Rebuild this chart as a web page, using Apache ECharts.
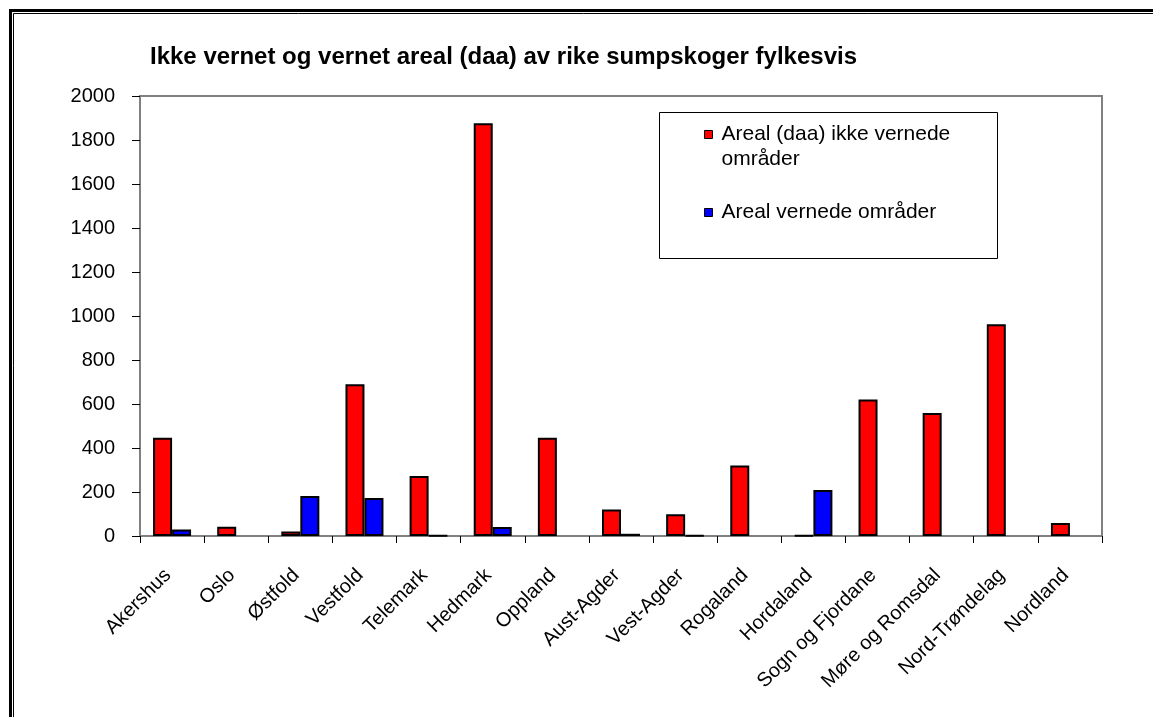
<!DOCTYPE html>
<html>
<head>
<meta charset="utf-8">
<script src="https://cdn.jsdelivr.net/npm/echarts@6/dist/echarts.min.js"></script>
<style>
  html, body { margin: 0; padding: 0; background: #fff; }
  #chart { width: 1153px; height: 717px; }
</style>
</head>
<body>
<div id="chart"></div>
<script>
// Counties (fylker)
const fylker = ['Akershus', 'Oslo', 'Østfold', 'Vestfold', 'Telemark', 'Hedmark', 'Oppland',
  'Aust-Agder', 'Vest-Agder', 'Rogaland', 'Hordaland', 'Sogn og Fjordane', 'Møre og Romsdal',
  'Nord-Trøndelag', 'Nordland'];

// Area (daa) of rich swamp forest outside protected areas
const ikkeVernet = [447, 42, 20, 690, 273, 1876, 447, 121, 99, 320, 3, 621, 559, 962, 59];

// Area (daa) inside protected areas
const vernet = [30, 0, 182, 173, 2, 41, 0, 10, 3, 0, 209, 0, 0, 0, 0];

const seriesNames = ['Areal (daa) ikke vernede områder', 'Areal vernede områder'];
const titleText = 'Ikke vernet og vernet areal (daa) av rike sumpskoger fylkesvis';

const FONT = '"Liberation Sans", Arial, sans-serif';

// counties with no area get no bar at all
const asBars = (arr) => arr.map(v => (v === 0 ? '-' : v));

const chart = echarts.init(document.getElementById('chart'), null, { renderer: 'canvas' });

chart.setOption({
  backgroundColor: '#ffffff',
  animation: false,
  title: {
    text: titleText,
    left: 150,
    top: 45,
    padding: 0,
    textStyle: { fontFamily: FONT, fontSize: 24, fontWeight: 'bold', color: '#000' }
  },
  legend: [
    {
      data: [seriesNames[0]],
      left: 704,
      top: 97,
      padding: 0,
      icon: 'rect',
      itemWidth: 8,
      itemHeight: 8,
      itemStyle: { borderColor: '#000', borderWidth: 1 },
      // leading blank line keeps the swatch level with the first line of the wrapped name
      formatter: () => '\nAreal (daa) ikke vernede\nområder',
      textStyle: { fontFamily: FONT, fontSize: 21, color: '#000', lineHeight: 25, padding: [0, 0, 0, 4] }
    },
    {
      data: [seriesNames[1]],
      left: 704,
      top: 201,
      padding: 0,
      icon: 'rect',
      itemWidth: 8,
      itemHeight: 8,
      itemStyle: { borderColor: '#000', borderWidth: 1 },
      textStyle: { fontFamily: FONT, fontSize: 21, color: '#000', lineHeight: 23, padding: [0, 0, 0, 4] }
    }
  ],
  grid: {
    left: 140,
    right: 51,
    top: 96,
    bottom: 181,
    show: true,
    borderColor: '#808080',
    borderWidth: 2,
    containLabel: false
  },
  xAxis: {
    type: 'category',
    data: fylker,
    axisLine: { show: true, lineStyle: { color: '#808080', width: 2 } },
    axisTick: { show: true, interval: 0, length: 7, lineStyle: { color: '#000', width: 1 } },
    axisLabel: {
      interval: 0,
      rotate: 45,
      margin: 32,
      padding: [0, 6, 0, 0],
      fontFamily: FONT,
      fontSize: 20,
      color: '#000'
    },
    splitLine: { show: false }
  },
  yAxis: {
    type: 'value',
    min: 0,
    max: 2000,
    interval: 200,
    axisLine: { show: true, lineStyle: { color: '#808080', width: 2 } },
    axisTick: { show: true, length: 8, lineStyle: { color: '#000', width: 1 } },
    axisLabel: {
      margin: 25,
      fontFamily: FONT,
      fontSize: 20,
      color: '#000',
      formatter: (v) => String(v)
    },
    splitLine: { show: false }
  },
  series: [
    {
      name: seriesNames[0],
      type: 'bar',
      data: asBars(ikkeVernet),
      barWidth: 19,
      barGap: '0%',
      itemStyle: { color: '#ff0000', borderColor: '#000', borderWidth: 2 }
    },
    {
      name: seriesNames[1],
      type: 'bar',
      data: asBars(vernet),
      barWidth: 19,
      barGap: '0%',
      itemStyle: { color: '#0000ff', borderColor: '#000', borderWidth: 2 }
    }
  ],
  graphic: [
    // double frame around the whole chart
    { type: 'rect', silent: true, shape: { x: 10.5, y: 10.5, width: 1300, height: 900 },
      style: { fill: null, stroke: '#000', lineWidth: 3 } },
    { type: 'rect', silent: true, shape: { x: 13.5, y: 13.5, width: 1300, height: 900 },
      style: { fill: null, stroke: '#000', lineWidth: 1 } },
    // legend box
    { type: 'rect', silent: true, z: 0, shape: { x: 659.5, y: 112.5, width: 338, height: 146 },
      style: { fill: '#fff', stroke: '#000', lineWidth: 1 } }
  ]
});
</script>
</body>
</html>
